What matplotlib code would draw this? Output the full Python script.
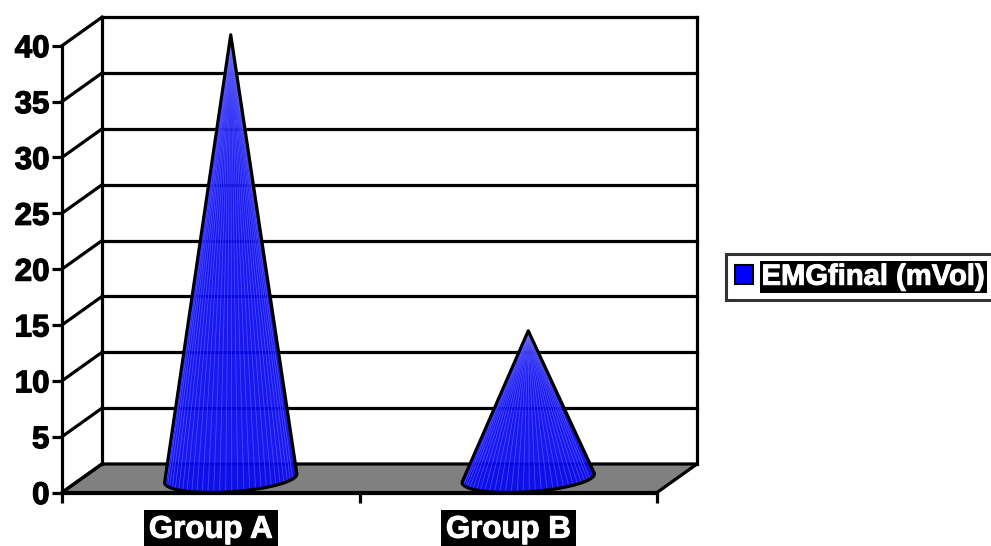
import numpy as np
import matplotlib
matplotlib.use("Agg")
import matplotlib.pyplot as plt
from matplotlib.patches import Patch
import matplotlib.patheffects as pe

# ---- data ----
categories = ["Group A", "Group B"]
values = [39.7, 13.2]
series_name = "EMGfinal (mVol)"
y_ticks = [0, 5, 10, 15, 20, 25, 30, 35, 40]

FONT = "Liberation Sans"
W, H = 991, 546
fig = plt.figure(figsize=(W / 100, H / 100), dpi=100)

# front plane: x px 62..657 -> 0..2 ; y px 492.5 -> 0, 11.17 px / unit
px_x = 297.5
px_y = 11.17
x0, y0 = 62, 492.5
ax_right = 700
ax_top = 14
ax = fig.add_axes([x0 / W, (H - y0) / H, (ax_right - x0) / W, (y0 - ax_top) / H])
ax.set_xlim(0, (ax_right - x0) / px_x)
ax.set_ylim(0, (y0 - ax_top) / px_y)
ax.patch.set_visible(False)

dx = 40 / px_x     # depth offset in x data units
dy = 28.5 / px_y   # depth offset in y data units
ncat = len(categories)
ymax = y_ticks[-1]
lw = 2.3
heavy = [pe.withStroke(linewidth=0.9, foreground="black")]
heavy_w = [pe.withStroke(linewidth=0.7, foreground="white")]

# spines / ticks
for s in ["top", "right"]:
    ax.spines[s].set_visible(False)
ax.spines["left"].set_bounds(0, ymax)
ax.spines["bottom"].set_bounds(0, ncat)
ax.spines["left"].set_linewidth(lw)
ax.spines["bottom"].set_linewidth(lw)
ax.spines["left"].set_zorder(8)
ax.spines["bottom"].set_zorder(8)
ax.set_yticks(y_ticks)
ax.set_yticklabels([str(v) for v in y_ticks])
ax.tick_params(axis="y", direction="out", length=7, width=lw, pad=2,
               labelsize=22.5)
ax.set_xticks(np.arange(ncat + 1))
ax.set_xticklabels([])
ax.set_xticks(np.arange(ncat) + 0.5, minor=True)
ax.set_xticklabels(categories, minor=True)
ax.tick_params(axis="x", which="major", direction="out", length=7, width=lw)
ax.tick_params(axis="x", which="minor", length=0, pad=16, labelsize=22.5)
for lbl in ax.get_yticklabels():
    lbl.set_fontfamily(FONT)
    lbl.set_fontweight("bold")
    lbl.set_path_effects(heavy)
for lbl in ax.get_xticklabels(minor=True):
    lbl.set_fontfamily(FONT)
    lbl.set_fontweight("bold")
    lbl.set_color("white")
    lbl.set_path_effects(heavy_w)
    lbl.set_bbox(dict(facecolor="black", edgecolor="none", pad=3.5))

# floor
floor = plt.Polygon([(0, 0), (ncat, 0), (ncat + dx, dy), (dx, dy)],
                    closed=True, facecolor="#808080", edgecolor="black",
                    linewidth=lw, zorder=2, clip_on=False, joinstyle="miter")
ax.add_patch(floor)

# back wall gridlines and left side diagonals
for v in y_ticks:
    if v > 0:
        ax.plot([dx, ncat + dx], [v + dy, v + dy], color="black", lw=lw,
                zorder=1, clip_on=False, solid_capstyle="projecting")
    ax.plot([0, dx], [v, v + dy], color="black", lw=lw, zorder=3,
            clip_on=False)
ax.plot([dx, dx], [dy, ymax + dy], color="black", lw=lw, zorder=3,
        clip_on=False)
ax.plot([ncat + dx, ncat + dx], [dy, ymax + dy], color="black", lw=lw,
        zorder=1, clip_on=False, solid_capstyle="projecting")


def hull(points):
    pts = sorted(set(points))
    def cross(o, a, b):
        return (a[0] - o[0]) * (b[1] - o[1]) - (a[1] - o[1]) * (b[0] - o[0])
    lower, upper = [], []
    for p in pts:
        while len(lower) >= 2 and cross(lower[-2], lower[-1], p) <= 0:
            lower.pop()
        lower.append(p)
    for p in reversed(pts):
        while len(upper) >= 2 and cross(upper[-2], upper[-1], p) <= 0:
            upper.pop()
        upper.append(p)
    return lower[:-1] + upper[:-1]


R = 63 / px_x
t = np.linspace(0, 2 * np.pi, 400, endpoint=False)
for i, val in enumerate(values):
    cx = i + 0.5 + dx / 2
    cy = dy / 2
    ex = cx + R * np.cos(t) + (dx / 2) * np.sin(t)
    ey = cy + (dy / 2) * np.sin(t)
    apex = (cx, cy + val)
    pts = [(float(a), float(b)) for a, b in zip(ex, ey)] + [apex]
    hp = hull(pts)
    poly = plt.Polygon(hp, closed=True, facecolor="#0606f2", alpha=0.93,
                       edgecolor="none", zorder=5, clip_on=False)
    ax.add_patch(poly)
    # stripes
    ts = np.linspace(np.pi + 0.05, 2 * np.pi - 0.05, 34)
    for tt in ts:
        bx = cx + R * np.cos(tt) + (dx / 2) * np.sin(tt)
        by = cy + (dy / 2) * np.sin(tt)
        ax.plot([apex[0], bx], [apex[1], by], color="#7a7aff", lw=0.6,
                alpha=0.5, zorder=6, clip_on=False)
    outline = plt.Polygon(hp, closed=True, facecolor="none",
                          edgecolor="black", linewidth=lw, zorder=7,
                          clip_on=False, joinstyle="round")
    ax.add_patch(outline)

# legend
handle = Patch(facecolor="#0000ff", edgecolor="black", linewidth=1.5,
               label=series_name)
leg = fig.legend(handles=[handle], loc="upper left",
                 bbox_to_anchor=(726 / W, (H - 254) / H),
                 prop=dict(family=FONT, weight="bold", size=21),
                 frameon=True, fancybox=False, edgecolor="black",
                 handlelength=0.62, handleheight=0.62, handletextpad=0.3,
                 borderpad=0.3, borderaxespad=0)
leg.get_frame().set_linewidth(2.2)
for txt in leg.get_texts():
    txt.set_color("white")
    txt.set_path_effects(heavy_w)
    txt.set_bbox(dict(facecolor="black", edgecolor="none", pad=1.5))

fig.savefig("out.png", dpi=100)
